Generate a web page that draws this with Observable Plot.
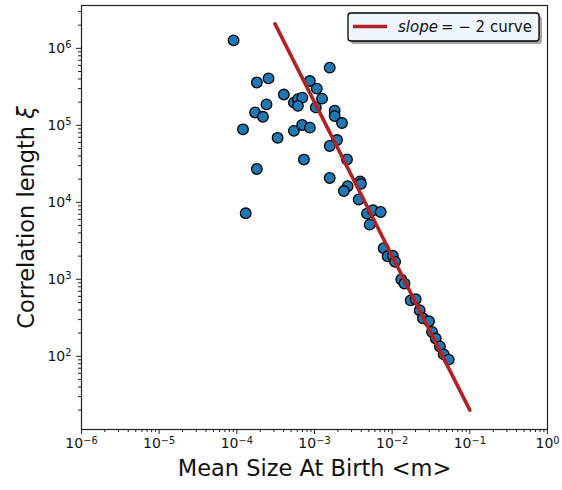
<!DOCTYPE html>
<html>
<head>
<meta charset="utf-8">
<script src="https://cdn.jsdelivr.net/npm/d3@7"></script>
<script src="https://cdn.jsdelivr.net/npm/@observablehq/plot@0.6"></script>
<style>
  html, body { margin: 0; padding: 0; background: #fff; }
  svg { font-family: "DejaVu Sans", sans-serif; }
</style>
</head>
<body>
<div id="chart"></div>
<script>
// Scatter data: mean size at birth <m> vs correlation length xi
const meanSize = [
  9.08e-5, 1.20e-4, 1.30e-4, 1.81e-4, 2.56e-4, 1.72e-4, 2.41e-4, 2.17e-4, 1.81e-4, 3.35e-4,
  4.03e-4, 5.43e-4, 6.12e-4, 6.97e-4, 6.12e-4, 8.71e-4, 1.07e-3, 1.25e-3, 1.04e-3, 1.57e-3,
  1.82e-3, 1.82e-3, 2.26e-3, 5.43e-4, 6.94e-4, 8.71e-4, 7.31e-4, 1.95e-3, 1.57e-3, 2.62e-3,
  1.57e-3, 2.67e-3, 2.39e-3, 3.87e-3, 3.96e-3, 3.71e-3, 4.74e-3, 5.66e-3, 7.11e-3, 5.13e-3,
  7.78e-3, 8.75e-3, 1.02e-2, 1.09e-2, 1.31e-2, 1.44e-2, 1.73e-2, 2.01e-2, 2.26e-2, 2.49e-2,
  2.98e-2, 3.26e-2, 3.64e-2, 4.12e-2, 4.61e-2, 5.35e-2
];
const corrLength = [
  1.27e6, 8.87e4, 7.2e3, 3.6e5, 4.07e5, 1.47e5, 1.87e5, 1.29e5, 2.71e4, 6.88e4,
  2.51e5, 1.97e5, 2.18e5, 2.29e5, 1.79e5, 3.76e5, 3.0e5, 2.22e5, 1.71e5, 5.61e5,
  1.55e5, 1.32e5, 1.07e5, 8.48e4, 1.01e5, 9.33e4, 3.59e4, 6.44e4, 5.39e4, 3.6e4,
  2.07e4, 1.62e4, 1.40e4, 1.87e4, 1.74e4, 1.09e4, 7.13e3, 7.87e3, 7.48e3, 5.13e3,
  2.53e3, 1.99e3, 2.02e3, 1.69e3, 994, 880, 533, 550, 396, 312,
  285, 207, 170, 134, 106, 90.6
];
// slope = -2 reference curve endpoints
const curveX = [3.1e-4, 0.1];
const curveY = [2.08e6, 20];

// Tick values
const xMajor = [1e-6, 1e-5, 1e-4, 1e-3, 1e-2, 1e-1, 1e0];
const yMajor = [1e2, 1e3, 1e4, 1e5, 1e6];
const minorMult = [2, 3, 4, 5, 6, 7, 8, 9];
const xMinor = xMajor.slice(0, -1).flatMap(d => minorMult.map(m => d * m));
const yMinor = [1e1, 1e2, 1e3, 1e4, 1e5, 1e6].flatMap(d => minorMult.map(m => d * m)).filter(v => v > 11.2 && v < 3.6e6);

const points = meanSize.map((x, i) => ({x, y: corrLength[i]}));
const curve = curveX.map((x, i) => ({x, y: curveY[i]}));

const expFmt = d => "10^" + Math.round(Math.log10(d));

const plot = Plot.plot({
  width: 562,
  height: 490,
  marginLeft: 81,
  marginRight: 15,
  marginTop: 5,
  marginBottom: 61,
  style: {background: "#fff", fontFamily: "DejaVu Sans, sans-serif", overflow: "visible"},
  x: {type: "log", domain: [1e-6, 1]},
  y: {type: "log", domain: [11.2, 3.6e6]},
  marks: [
    Plot.axisX(xMinor, {tickSize: 3, tickFormat: () => "", label: null, stroke: "#222"}),
    Plot.axisY(yMinor, {tickSize: 3, tickFormat: () => "", label: null, stroke: "#222"}),
    Plot.axisX(xMajor, {tickSize: 5, tickFormat: () => "", label: null, stroke: "#222"}),
    Plot.axisY(yMajor, {tickSize: 5, tickFormat: () => "", label: null, stroke: "#222"}),
    Plot.text(xMajor, {x: d => d, text: expFmt, frameAnchor: "bottom", lineAnchor: "top", textAnchor: "middle", dy: 9, fontSize: 14, fill: "#111"}),
    Plot.text(yMajor, {y: d => d, text: expFmt, frameAnchor: "left", lineAnchor: "middle", textAnchor: "end", dx: -10, fontSize: 14, fill: "#111"}),
    Plot.dot(points, {x: "x", y: "y", r: 5.3, fill: "#1f77b4", stroke: "#000", strokeWidth: 1.3}),
    Plot.line(curve, {x: "x", y: "y", stroke: "#b22222", strokeWidth: 3.6}),
    Plot.frame({stroke: "#222", strokeWidth: 1.2}),
    Plot.text(["Mean Size At Birth <m>"], {frameAnchor: "bottom", textAnchor: "middle", dy: 46, fontSize: 22.5, fill: "#111", lineAnchor: "bottom"}),
    Plot.text(["Correlation length ξ"], {frameAnchor: "left", textAnchor: "middle", dx: -48, rotate: -90, fontSize: 22.5, fill: "#111", lineAnchor: "bottom"})
  ]
});

document.getElementById("chart").appendChild(plot);

const svg = d3.select(plot);
svg.selectAll("text").each(function() {
  const t = this.textContent;
  const sel = d3.select(this);
  if (t.startsWith("10^")) {
    // superscript exponents like matplotlib mathtext
    const e = t.slice(3).replace("-", "\u2212");
    sel.text("");
    sel.append("tspan").text("10");
    sel.append("tspan").attr("dy", "-0.5em").attr("font-size", "0.7em").text(e);
  } else if (t.endsWith("ξ")) {
    sel.text("");
    sel.append("tspan").text(t.slice(0, -1));
    sel.append("tspan").attr("font-style", "italic").text("ξ");
  }
});

// Legend (matplotlib-style fancy box with shadow)
const lg = svg.append("g").attr("class", "legend").attr("text-anchor", "start");
lg.append("rect").attr("x", 351).attr("y", 16).attr("width", 191).attr("height", 28)
  .attr("rx", 3).attr("fill", "#000").attr("fill-opacity", 0.35);
lg.append("rect").attr("x", 348).attr("y", 13).attr("width", 191).attr("height", 28)
  .attr("rx", 3).attr("fill", "#eef5fc").attr("stroke", "#000").attr("stroke-width", 1.3);
lg.append("line").attr("x1", 353).attr("x2", 387).attr("y1", 26.5).attr("y2", 26.5)
  .attr("stroke", "#b22222").attr("stroke-width", 3.6);
const lt = lg.append("text").attr("x", 398).attr("y", 32).attr("font-size", 15)
  .attr("text-anchor", "start").attr("fill", "#111");
lt.append("tspan").attr("font-style", "italic").text("slope");
lt.append("tspan").text("\u2009= \u2212 2 curve");
</script>
</body>
</html>
